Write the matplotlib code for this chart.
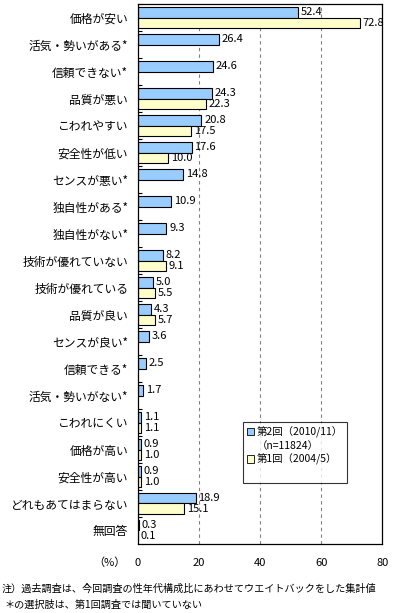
import numpy as np
import matplotlib
matplotlib.use('Agg')
import matplotlib.pyplot as plt
from matplotlib.patches import Patch

plt.rcParams['font.family'] = ['Noto Sans CJK JP', 'DejaVu Sans']

# ── データ ──
categories = ['価格が安い', '活気・勢いがある*', '信頼できない*', '品質が悪い', 'こわれやすい',
              '安全性が低い', 'センスが悪い*', '独自性がある*', '独自性がない*', '技術が優れていない',
              '技術が優れている', '品質が良い', 'センスが良い*', '信頼できる*', '活気・勢いがない*',
              'こわれにくい', '価格が高い', '安全性が高い', 'どれもあてはまらない', '無回答']
round2 = [52.4, 26.4, 24.6, 24.3, 20.8, 17.6, 14.8, 10.9, 9.3, 8.2,
          5.0, 4.3, 3.6, 2.5, 1.7, 1.1, 0.9, 0.9, 18.9, 0.3]
round1 = [72.8, np.nan, np.nan, 22.3, 17.5, 10.0, np.nan, np.nan, np.nan, 9.1,
          5.5, 5.7, np.nan, np.nan, np.nan, 1.1, 1.0, 1.0, 15.1, 0.1]
label2 = '第2回（2010/11）'
label2_n = '（n=11824）'
label1 = '第1回（2004/5）'
xticks = [0, 20, 40, 60, 80]

C2 = '#99CCFF'
C1 = '#FFFFCC'

fig = plt.figure(figsize=(3.94, 6.13), dpi=100)
ax = fig.add_axes([0.350, 0.1126, 0.620, 0.8805])

y = np.arange(len(categories))
h = 0.39
ax.barh(y - h / 2, round2, height=h, color=C2, edgecolor='black', linewidth=0.8)
ax.barh(y + h / 2, round1, height=h, color=C1, edgecolor='black', linewidth=0.8)

# 数値ラベル
off = 0.9
for i, v in enumerate(round2):
    ax.text(v + off, i - h / 2, f'{v:.1f}', va='center', ha='left', fontsize=8)
for i, v in enumerate(round1):
    if not np.isnan(v):
        ax.text(v + off, i + h / 2, f'{v:.1f}', va='center', ha='left', fontsize=8)

ax.set_xlim(0, 80)
ax.set_ylim(len(categories) - 0.5, -0.5)
ax.set_xticks(xticks)
ax.set_xticklabels([str(t) for t in xticks], fontsize=8)
ax.tick_params(axis='x', length=0, pad=10)
ax.set_yticks(y)
ax.set_yticklabels(categories, fontsize=8.5)
ax.tick_params(axis='y', length=0, pad=7)
ax.set_yticks(np.arange(len(categories)) - 0.5, minor=True)
ax.tick_params(axis='y', which='minor', direction='in', length=3, width=0.8)

for gx in xticks[1:-1]:
    ax.axvline(gx, color='#808080', linestyle=(0, (3, 3)), linewidth=0.8, zorder=0)

for sp in ax.spines.values():
    sp.set_linewidth(0.9)
    sp.set_color('black')

ax.text(-0.115, -0.035, '（%）', transform=ax.transAxes, fontsize=8, ha='center', va='center')

# 凡例
handles = [Patch(facecolor=C2, edgecolor='black', linewidth=0.6),
           Patch(facecolor='none', edgecolor='none'),
           Patch(facecolor=C1, edgecolor='black', linewidth=0.6),
           Patch(facecolor='none', edgecolor='none')]
labels = [label2, label2_n, label1, ' ']
leg = ax.legend(handles, labels, loc='upper left', bbox_to_anchor=(0.430, 0.226),
                borderaxespad=0, fontsize=7.5, frameon=True, fancybox=False,
                handlelength=0.7, handleheight=0.7, handletextpad=0.2,
                labelspacing=0.3, borderpad=0.4)
leg.get_frame().set_edgecolor('black')
leg.get_frame().set_linewidth(0.8)

fig.text(0.003, 0.040, '注）過去調査は、今回調査の性年代構成比にあわせてウエイトバックをした集計値',
         fontsize=7.3, ha='left', va='center')
fig.text(0.01, 0.014, '＊の選択肢は、第1回調査では聞いていない',
         fontsize=7.3, ha='left', va='center')

fig.savefig('out.png', dpi=100, facecolor='white')
